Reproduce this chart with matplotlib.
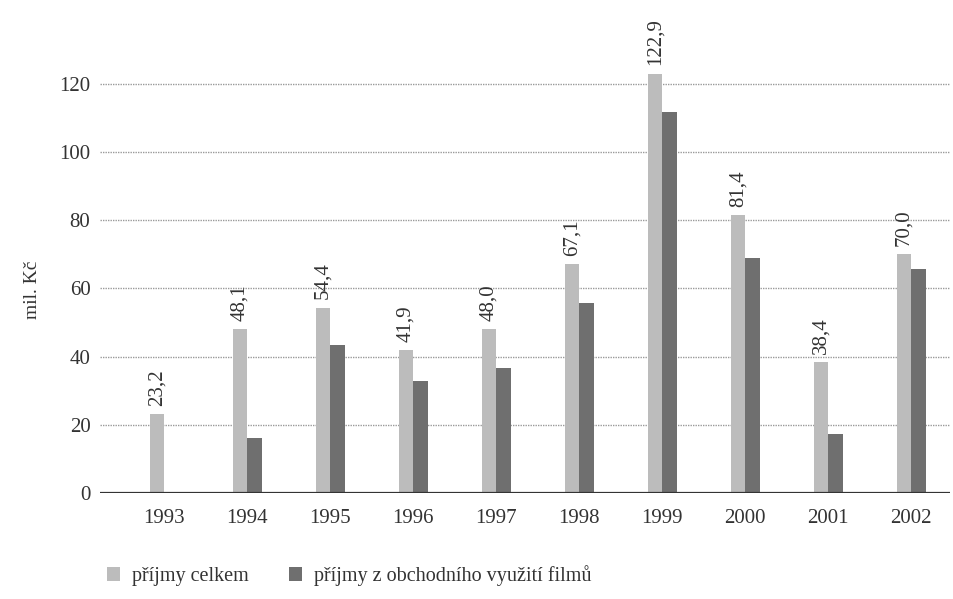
import numpy as np
import matplotlib.pyplot as plt

years = ['1993', '1994', '1995', '1996', '1997', '1998', '1999', '2000', '2001', '2002']
prijmy_celkem = [23.2, 48.1, 54.4, 41.9, 48.0, 67.1, 122.9, 81.4, 38.4, 70.0]
prijmy_filmy = [0.0, 16.3, 43.4, 32.9, 36.6, 55.6, 111.7, 68.8, 17.4, 65.6]
yticks = [0, 20, 40, 60, 80, 100, 120]

plt.rcParams['font.family'] = ['Liberation Serif', 'DejaVu Serif']

fig = plt.figure(figsize=(9.54, 5.99), dpi=100)
ax = fig.add_axes([0.105, 0.1765, 0.891, 0.798])

x = np.arange(len(years))
w = 0.175
c_light = '#bcbcbc'
c_dark = '#6f6f6f'

ax.bar(x - w / 2, prijmy_celkem, w, color=c_light, label='příjmy celkem', zorder=3)
ax.bar(x + w / 2, prijmy_filmy, w, color=c_dark,
       label='příjmy z obchodního využití filmů', zorder=3)

for xi, v in zip(x, prijmy_celkem):
    ax.annotate(f'{v:.1f}'.replace('.', ','), (xi - w / 2, v),
                xytext=(0, 6), textcoords='offset points',
                rotation=90, ha='center', va='bottom',
                fontsize=15, color='#333333')

ax.set_xlim(-0.77, 9.47)
ax.set_ylim(0, 140)
ax.set_yticks(yticks)
ax.set_xticks(x)
ax.set_xticklabels(years)
ax.tick_params(length=0, labelsize=15, colors='#333333')
ax.tick_params(axis='x', pad=11)
ax.tick_params(axis='y', pad=7)

ax.yaxis.grid(True, linestyle=(0, (1, 0.8)), color='#9a9a9a', linewidth=1, zorder=0)
ax.axhline(0, color='#333333', linewidth=1.6, zorder=4)
for s in ax.spines.values():
    s.set_visible(False)

ax.set_ylabel('mil. Kč', fontsize=14, color='#333333')
ax.yaxis.set_label_coords(-0.07, 0.425)

leg = fig.legend(loc='lower left', bbox_to_anchor=(0.093, -0.009), ncol=2,
                 frameon=False, fontsize=14.5, handlelength=0.65, handleheight=0.65,
                 handletextpad=0.6, columnspacing=2.0)
for t in leg.get_texts():
    t.set_color('#333333')

fig.savefig('out.png', dpi=100)
